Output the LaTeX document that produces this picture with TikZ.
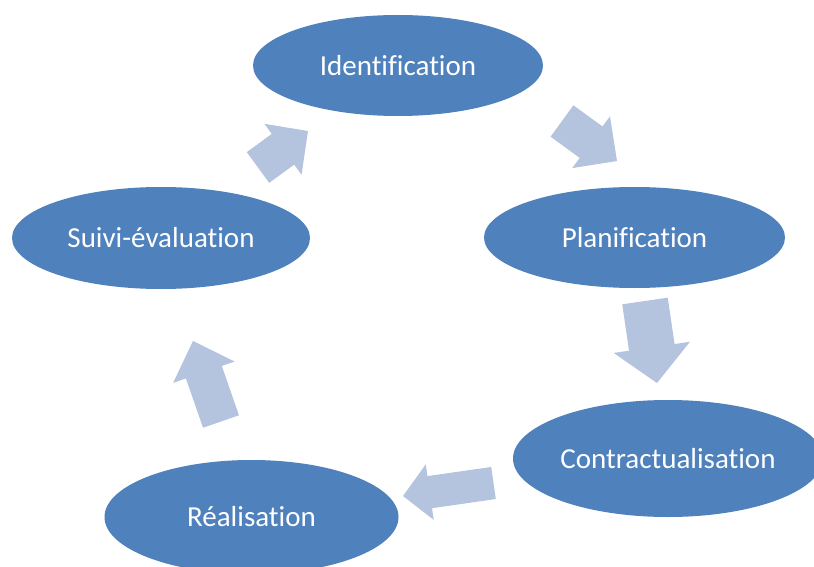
\documentclass[tikz,border=0pt]{standalone}
\usepackage{fontspec}
\setmainfont{Carlito}[Ligatures=NoCommon]
\usepackage{tikz}
\usetikzlibrary{calc}
\usetikzlibrary{shapes.geometric}
\tikzstyle{phase} = [ellipse, fill=CycleBlue, text=white, inner sep=0pt, font=\fontsize{29}{34}\selectfont]
\tikzstyle{cyclearrow} = [fill=CycleArrow]
\definecolor{CycleBlue}{HTML}{4F81BD}
\definecolor{CycleArrow}{HTML}{B4C3DE}

\begin{document}
\begin{tikzpicture}[x=1pt,y=-1pt]
  \clip (0,0) rectangle (814,567);
  \fill[white] (0,0) rectangle (814,567);

  % the five phases of the cycle
  \node[phase, minimum width=290pt, minimum height=101pt] (ident) at (398,65.5) {Identification};
  \node[phase, minimum width=301pt, minimum height=101pt] (plan) at (634.5,237.5) {Planification};
  \node[phase, minimum width=310pt, minimum height=117pt] (contr) at (668,458.5) {Contractualisation};
  \node[phase, minimum width=294pt, minimum height=114pt] (real) at (251.5,517) {Réalisation};
  \node[phase, minimum width=298pt, minimum height=102pt] (suivi) at (161,238) {Suivi-évaluation};

  % block arrows: tail and tip of each
  \coordinate (identplan-s) at (562,121);   \coordinate (identplan-t) at (617,161);
  \coordinate (plancontr-s) at (645,301);   \coordinate (plancontr-t) at (657,383);
  \coordinate (contrreal-s) at (493.5,483); \coordinate (contrreal-t) at (403,496);
  \coordinate (realsuivi-s) at (221,421.5); \coordinate (realsuivi-t) at (193,341);
  \coordinate (suiviident-s) at (258,167.5); \coordinate (suiviident-t) at (308,131);

  \foreach \s/\t/\w/\h/\l in {identplan-s/identplan-t/19.4/32/32,
                               plancontr-s/plancontr-t/23/38.5/36,
                               contrreal-s/contrreal-t/16.2/28/27,
                               realsuivi-s/realsuivi-t/19/32.5/33,
                               suiviident-s/suiviident-t/19/31.5/31} {
    \coordinate (b) at ($(\t)!\l pt!(\s)$);
    \fill[cyclearrow] ($(\s)!\w pt!90:(\t)$) -- ($(b)!\w pt!90:(\t)$) -- ($(b)!\h pt!90:(\t)$)
      -- (\t) -- ($(b)!\h pt!-90:(\t)$) -- ($(b)!\w pt!-90:(\t)$) -- ($(\s)!\w pt!-90:(\t)$) -- cycle;
  }
\end{tikzpicture}
\end{document}
